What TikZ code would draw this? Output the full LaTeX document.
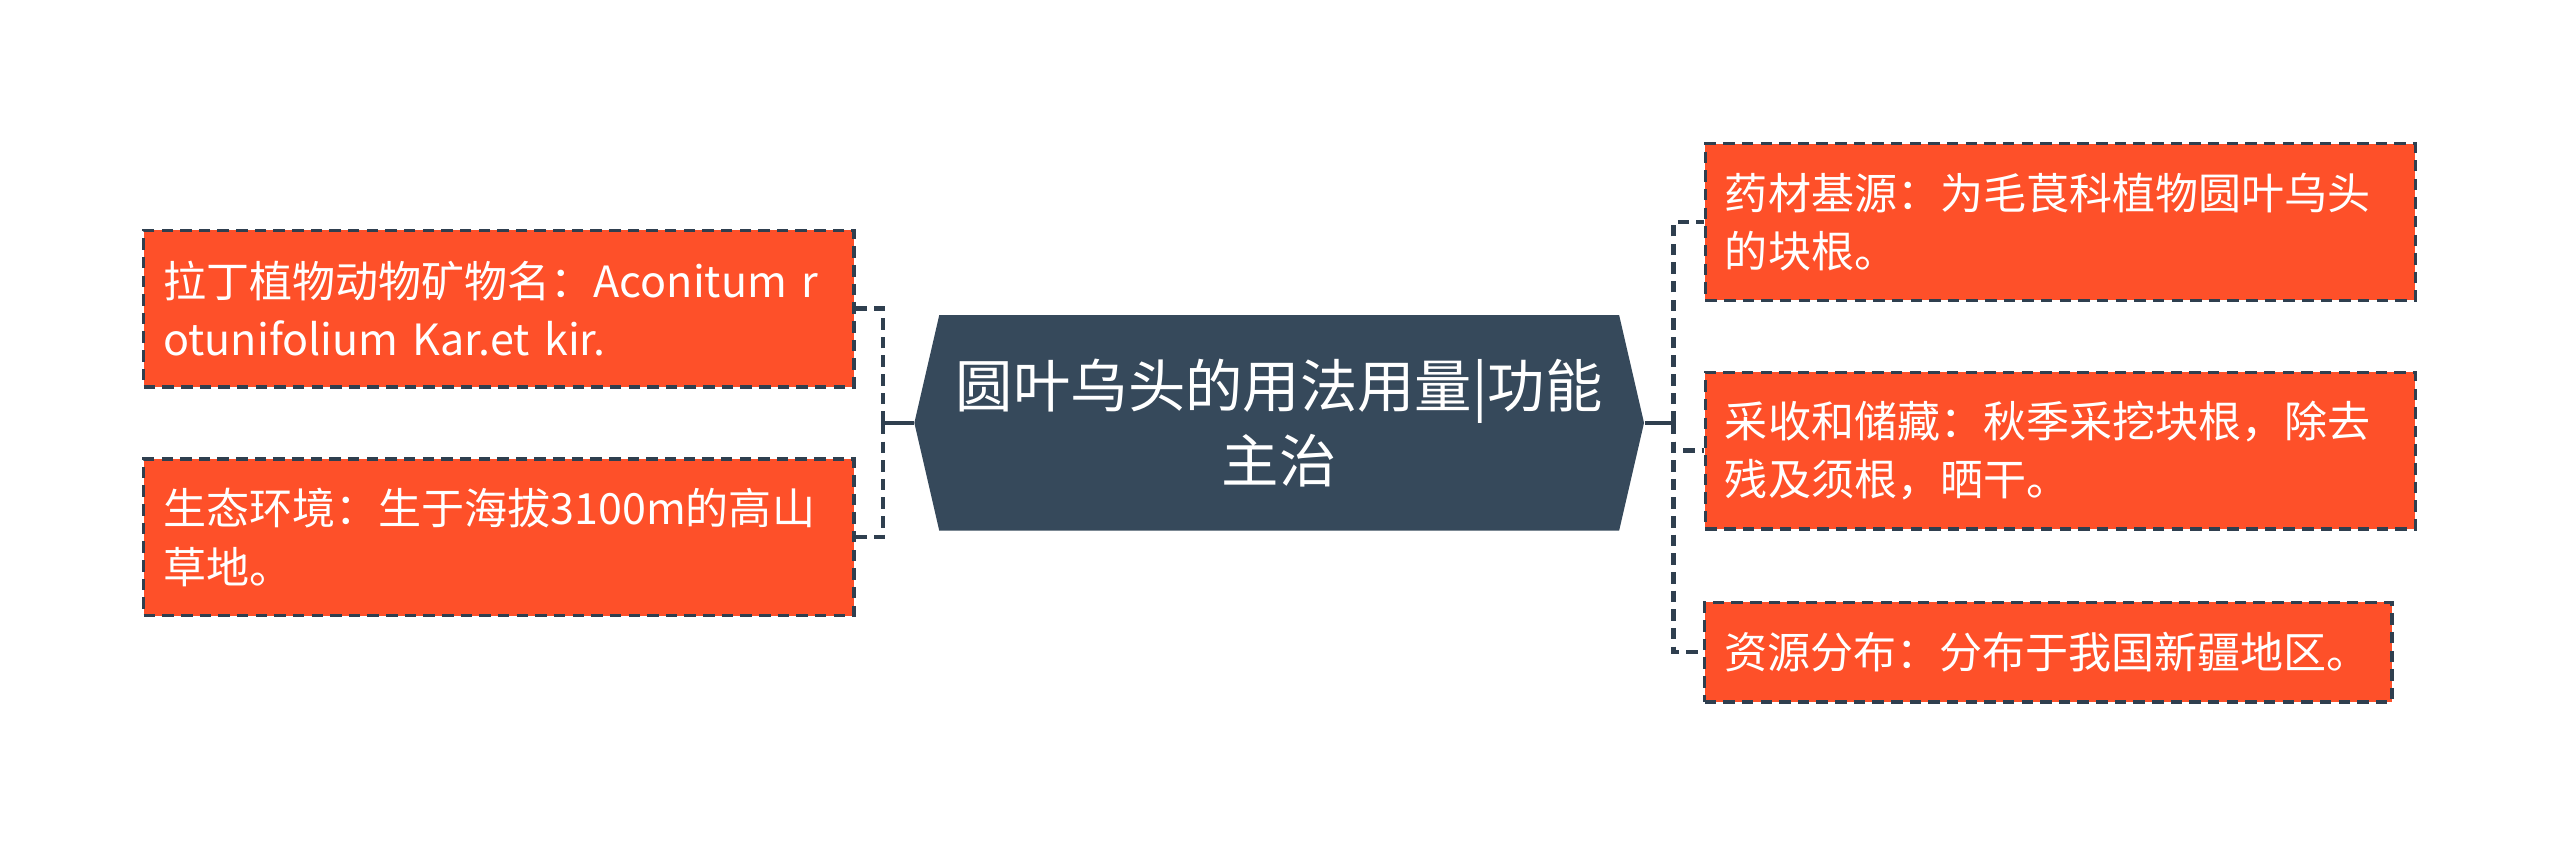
\documentclass[tikz,border=0pt]{standalone}
\usepackage{fontspec}
\setmainfont{Noto Sans CJK SC}[WordSpace=0.8]
\usetikzlibrary{shapes.symbols}
\definecolor{leaffill}{HTML}{FE5029}
\definecolor{edgeline}{HTML}{2F3F4F}
\definecolor{rootfill}{HTML}{36495B}
\begin{document}
\begin{tikzpicture}[x=0.02cm, y=-0.02cm,
    leaf/.style={draw=edgeline, line width=1.2pt, dash pattern=on 4pt off 2.5pt, fill=leaffill, text=white,
      font=\fontsize{15}{20.5}\selectfont, align=left, inner xsep=0.24cm, minimum height=1.92cm, text width=8.22cm},
    root/.style={signal, signal to=west and east, signal pointer angle=154, fill=rootfill, text=white,
      font=\fontsize{20}{26}\selectfont, align=center, minimum width=8.94cm, minimum height=2.64cm, inner sep=0pt},
    trunk/.style={draw=edgeline, line width=1.5pt},
    branch/.style={trunk, dash pattern=on 4pt off 2.5pt}]
  \useasboundingbox (0,0) rectangle (1568,518);
  \node[root] (c) at (783.5,259) {圆叶乌头的用法用量|功能\\主治};
  % left side
  \node[leaf] (l1) at (305.5,189) {拉丁植物动物矿物名：Aconitum r\\otunifolium Kar.et kir.};
  \node[leaf] (l2) at (305.5,329) {生态环境：生于海拔3100m的高山\\草地。};
  % right side
  \node[leaf] (r1) at (1262,136) {药材基源：为毛茛科植物圆叶乌头\\的块根。};
  \node[leaf] (r2) at (1262,276) {采收和储藏：秋季采挖块根，除去\\残及须根，晒干。};
  \node[leaf, text width=7.94cm, minimum height=1.22cm] (r3) at (1254.5,399.5) {资源分布：分布于我国新疆地区。};
  \coordinate (lb) at (541,259);
  \coordinate (rb) at (1025,259);
  \draw[trunk] (c.west) -- (lb);
  \draw[trunk] (c.east) -- (rb);
  \draw[branch] (lb) |- (l1.east);
  \draw[branch] (lb) |- (l2.east);
  \draw[branch] (rb) |- (r1.west);
  \draw[branch] (rb) |- (r2.west);
  \draw[branch] (rb) |- (r3.west);
\end{tikzpicture}
\end{document}
